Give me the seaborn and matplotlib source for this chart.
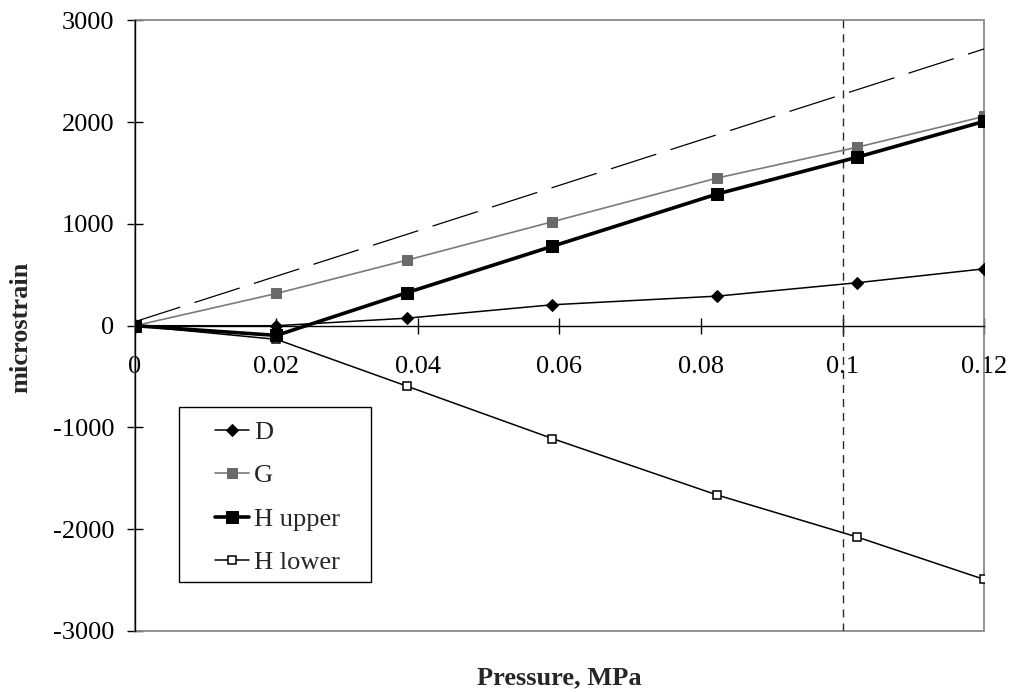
import matplotlib
matplotlib.use("Agg")
import matplotlib.pyplot as plt
from matplotlib.patches import Rectangle
import seaborn as sns
import pandas as pd

# ---- data ----
pressure = [0.0, 0.02, 0.0384, 0.059, 0.0823, 0.102, 0.12]
D_vals = [0, 0, 74, 206, 291, 422, 559]
G_vals = [0, 317, 644, 1022, 1452, 1753, 2057]
H_upper_vals = [0, -95, 324, 781, 1295, 1655, 2008]
H_lower_vals = [0, -134, -593, -1109, -1664, -2075, -2493]
ref_x = [0.0, 0.12]
ref_y = [40, 2720]
limit_x = 0.1
x_ticks = [0, 0.02, 0.04, 0.06, 0.08, 0.1, 0.12]
x_tick_labels = ["0", "0.02", "0.04", "0.06", "0.08", "0.1", "0.12"]
y_ticks = [-3000, -2000, -1000, 0, 1000, 2000, 3000]

sns.set_theme(style="white")
plt.rcParams['font.family'] = ['Liberation Serif', 'DejaVu Serif']

fig = plt.figure(figsize=(10.11, 6.92), dpi=100)
ax = fig.add_axes([0.1335, 0.0882, 0.9733 - 0.1335, 0.9704 - 0.0882])

df = pd.DataFrame({"p": pressure, "D": D_vals, "G": G_vals,
                   "H upper": H_upper_vals, "H lower": H_lower_vals})

# reference dashed line
ax.plot(ref_x, ref_y, color="black", lw=0.9, dashes=(38, 12), zorder=2)
# vertical limit line
ax.axvline(limit_x, color="#2a2a2a", lw=1.0, dashes=(5.8, 4.3), zorder=2)

sns.lineplot(data=df, x="p", y="D", ax=ax, color="black", lw=1.1,
             marker="D", markersize=6.5, markerfacecolor="black",
             markeredgecolor="black", label="D", zorder=4)
sns.lineplot(data=df, x="p", y="G", ax=ax, color="#7a7a7a", lw=1.2,
             marker="s", markersize=7, markerfacecolor="#6a6a6a",
             markeredgecolor="#6a6a6a", label="G", zorder=4)
sns.lineplot(data=df, x="p", y="H upper", ax=ax, color="black", lw=2.6,
             marker="s", markersize=8, markerfacecolor="black",
             markeredgecolor="black", label="H upper", zorder=5)
sns.lineplot(data=df, x="p", y="H lower", ax=ax, color="black", lw=1.1,
             marker="s", markersize=6, markerfacecolor="white",
             markeredgecolor="black", markeredgewidth=1.1,
             label="H lower", zorder=4)

ax.set_xlim(0, 0.12)
ax.set_ylim(-3000, 3000)

# spines
for s in ["top", "right"]:
    ax.spines[s].set_visible(False)
ax.spines["bottom"].set_position(("data", 0))
ax.spines["bottom"].set_color("black")
ax.spines["bottom"].set_linewidth(1.0)
ax.spines["left"].set_color("black")
ax.spines["left"].set_linewidth(1.0)
ax.spines["left"].set_zorder(6)
frame = Rectangle((0, 0), 1, 1, transform=ax.transAxes, fill=False,
                  edgecolor="#8a8a8a", lw=1.3, zorder=1, clip_on=False)
ax.add_patch(frame)

ax.set_xticks(x_ticks)
ax.set_xticklabels(x_tick_labels)
ax.set_yticks(y_ticks)
ax.set_yticklabels([str(v) for v in y_ticks])
ax.tick_params(axis="both", which="major", direction="inout", length=12,
               width=1.0, color="black", labelsize=19, labelcolor="black")
ax.tick_params(axis="y", pad=9)
ax.tick_params(axis="x", pad=16)
ax.tick_params(axis="both", bottom=True, left=True)

ax.set_xlabel("")
ax.set_ylabel("")
fig.text(0.5534, 0.021, "Pressure, MPa", ha="center", va="center",
         fontsize=19, fontweight="bold")
fig.text(0.021, 0.527, "microstrain", ha="center", va="center",
         rotation=90, fontsize=19, fontweight="bold")

# legend: frameless entries + separate box
leg = ax.legend(loc="center left", bbox_to_anchor=(0.0942, 0.2187),
                fontsize=19, frameon=False, handlelength=1.29,
                handletextpad=0.2, labelspacing=0.76, borderpad=0,
                borderaxespad=0)
leg.set_zorder(7)
box = Rectangle((0.0522, 0.0808), 0.278 - 0.0522, 0.3664 - 0.0808,
                transform=ax.transAxes, facecolor="white",
                edgecolor="black", lw=1.0, zorder=6.5)
ax.add_patch(box)

fig.savefig("out.png", dpi=100, facecolor="white")
